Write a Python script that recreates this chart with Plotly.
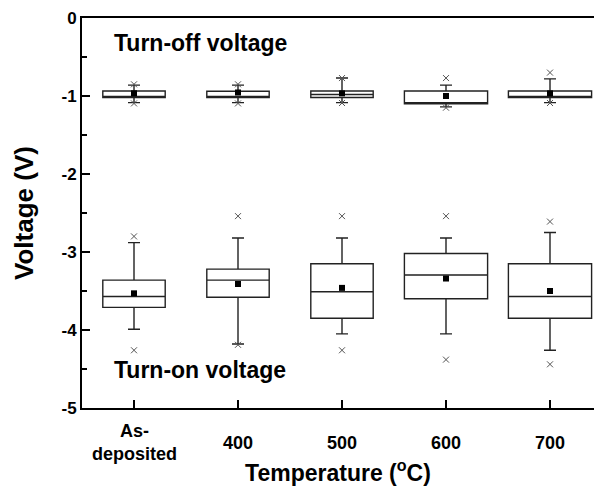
import plotly.graph_objects as go

categories = ["As-<br>deposited", "400", "500", "600", "700"]
xpos = [0, 1, 2, 3, 4]

# Turn-off voltage statistics
off_lo = [-1.085, -1.085, -1.085, -1.14, -1.085]
off_q1 = [-1.02, -1.02, -1.02, -1.10, -1.02]
off_med = [-1.02, -1.02, -0.98, -1.10, -1.02]
off_q3 = [-0.935, -0.94, -0.935, -0.935, -0.935]
off_hi = [-0.86, -0.86, -0.77, -0.86, -0.78]
off_mean = [-0.965, -0.955, -0.966, -1.0, -0.966]
off_out_hi = [-0.85, -0.85, -0.77, -0.77, -0.70]
off_out_lo = [-1.095, -1.095, -1.09, -1.15, -1.09]

# Turn-on voltage statistics
on_lo = [-3.99, -4.18, -4.05, -4.05, -4.26]
on_q1 = [-3.71, -3.58, -3.85, -3.60, -3.85]
on_med = [-3.57, -3.36, -3.51, -3.295, -3.57]
on_q3 = [-3.36, -3.22, -3.15, -3.02, -3.15]
on_hi = [-2.88, -2.82, -2.82, -2.82, -2.75]
on_mean = [-3.53, -3.41, -3.46, -3.34, -3.50]
on_out_hi = [-2.80, -2.54, -2.54, -2.54, -2.61]
on_out_lo = [-4.26, -4.19, -4.26, -4.38, -4.44]

yticks = [0, -1, -2, -3, -4, -5]

# style: box widths (data units) per category
box_w = [0.6, 0.6, 0.6, 0.8, 0.8]
cap_px = 12
px_per_unit = 104
font_family = "Liberation Sans, Arial, sans-serif"

fig = go.Figure()

for grp in [(off_lo, off_q1, off_med, off_q3, off_hi), (on_lo, on_q1, on_med, on_q3, on_hi)]:
    lo, q1, med, q3, hi = grp
    for i, x in enumerate(xpos):
        fig.add_trace(go.Box(
            x=[x], q1=[q1[i]], median=[med[i]], q3=[q3[i]],
            lowerfence=[lo[i]], upperfence=[hi[i]],
            width=box_w[i], whiskerwidth=cap_px / (box_w[i] * px_per_unit),
            boxpoints=False, fillcolor="white",
            line=dict(color="#222222", width=1.4),
            showlegend=False, hoverinfo="skip",
        ))

for ys in [off_out_hi, off_out_lo, on_out_hi, on_out_lo]:
    fig.add_trace(go.Scatter(
        x=xpos, y=ys, mode="markers",
        marker=dict(symbol="x-thin", size=6, line=dict(color="#555555", width=1)),
        showlegend=False, hoverinfo="skip",
    ))

for ys in [off_mean, on_mean]:
    fig.add_trace(go.Scatter(
        x=xpos, y=ys, mode="markers",
        marker=dict(symbol="square", size=6, color="black"),
        showlegend=False, hoverinfo="skip",
    ))

fig.add_annotation(x=-0.21, y=-0.32, xref="x", yref="y", xanchor="left", yanchor="middle",
                   text="<b>Turn-off voltage</b>", showarrow=False,
                   font=dict(family=font_family, size=23, color="black"))
fig.add_annotation(x=-0.21, y=-4.51, xref="x", yref="y", xanchor="left", yanchor="middle",
                   text="<b>Turn-on voltage</b>", showarrow=False,
                   font=dict(family=font_family, size=23, color="black"))

# category labels below the axis, vertically centred like the reference
for x, c in zip(xpos, categories):
    fig.add_annotation(x=x, y=-0.0885, xref="x", yref="paper", xanchor="center", yanchor="middle",
                       text="<b>" + c.replace("<br>", "</b><br><b>") + "</b>", showarrow=False,
                       font=dict(family=font_family, size=18, color="black"))

fig.update_layout(
    width=594, height=489,
    margin=dict(l=82, r=0, t=18, b=81),
    paper_bgcolor="white", plot_bgcolor="white",
    font=dict(family=font_family, color="black"),
    xaxis=dict(
        range=[-0.5, -0.5 + 512 / px_per_unit],
        tickvals=xpos, showticklabels=False,
        ticks="inside", ticklen=8, tickwidth=2, tickcolor="black",
        showline=True, linewidth=2, linecolor="black", mirror=True,
        showgrid=False, zeroline=False,
        title=dict(text="<b>Temperature (<sup>o</sup>C)</b>", font=dict(size=23, family=font_family), standoff=56),
    ),
    yaxis=dict(
        range=[-5, 0],
        tickvals=yticks,
        ticktext=["<b>%d</b>" % v for v in yticks],
        ticks="inside", ticklen=8, tickwidth=2, tickcolor="black",
        minor=dict(tickvals=[-0.5, -1.5, -2.5, -3.5, -4.5], ticks="inside", ticklen=5, tickwidth=2, tickcolor="black"),
        showline=True, linewidth=2, linecolor="black",
        showgrid=False, zeroline=False,
        tickfont=dict(size=17, family=font_family),
        title=dict(text="<b>Voltage (V)</b>", font=dict(size=26, family=font_family), standoff=20),
    ),
)

fig.write_html("out.html")
